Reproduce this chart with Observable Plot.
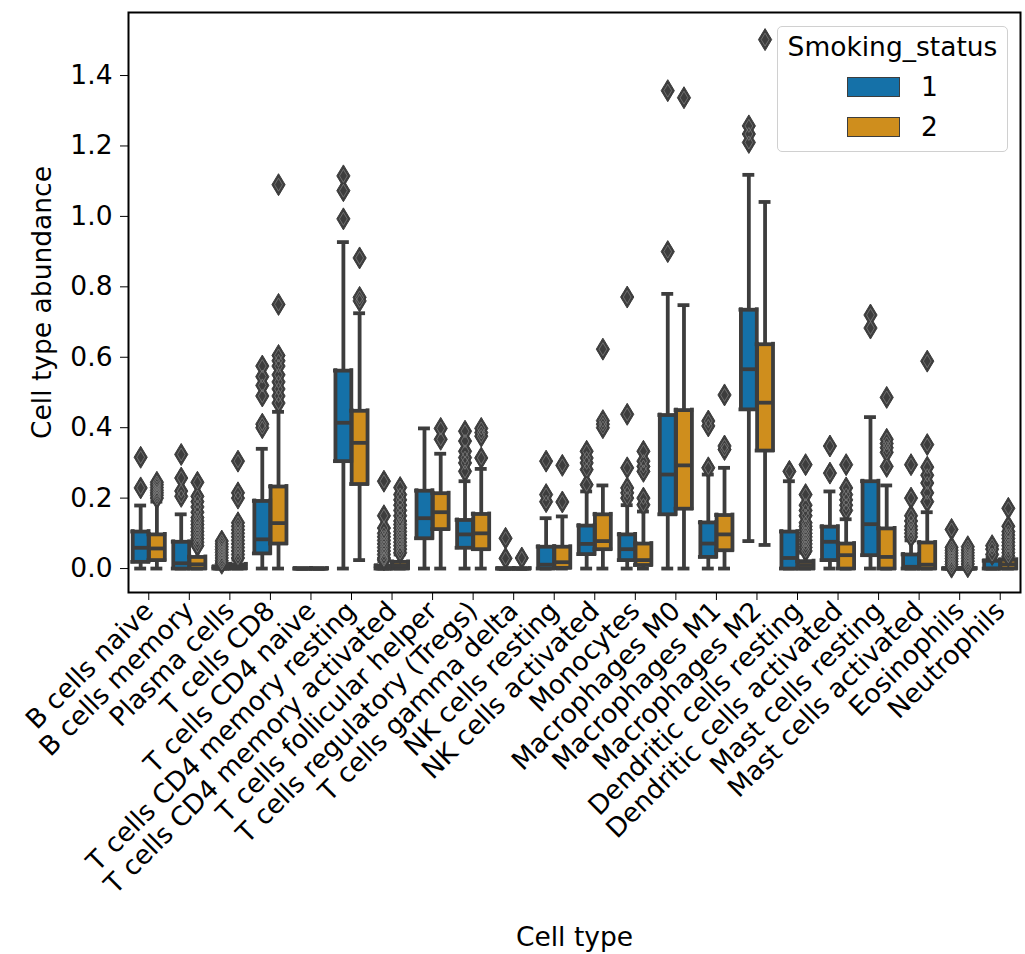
<!DOCTYPE html>
<html>
<head>
<meta charset="utf-8">
<script src="https://cdn.jsdelivr.net/npm/d3@7"></script>
<script src="https://cdn.jsdelivr.net/npm/@observablehq/plot@0.6"></script>
<style>
  html, body { margin: 0; padding: 0; background: #fff; }
  #wrap { position: relative; width: 1025px; height: 954px; font-family: "DejaVu Sans", sans-serif; }
  #legend { position: absolute; left: 777px; top: 26px; width: 229px; height: 124px;
            border: 1.5px solid #d0d0d0; border-radius: 5px; background: rgba(255,255,255,0.8);
            font-size: 26.5px; line-height: 26.5px; color: #000; }
  #legend .title { position: absolute; left: 0; width: 100%; top: 7px; text-align: center; }
  #legend .sw { position: absolute; left: 68.5px; width: 51px; height: 18px; border: 1.5px solid #3d3d3d; }
  #legend .lab { position: absolute; left: 143px; }
</style>
</head>
<body>
<div id="wrap"></div>
<script>
const cellTypes = ["B cells naive","B cells memory","Plasma cells","T cells CD8","T cells CD4 naive",
  "T cells CD4 memory resting","T cells CD4 memory activated","T cells follicular helper",
  "T cells regulatory (Tregs)","T cells gamma delta","NK cells resting","NK cells activated",
  "Monocytes","Macrophages M0","Macrophages M1","Macrophages M2","Dendritic cells resting",
  "Dendritic cells activated","Mast cells resting","Mast cells activated","Eosinophils","Neutrophils"];
const groups = ["1", "2"];
const yTicks = [0, 0.2, 0.4, 0.6, 0.8, 1.0, 1.2, 1.4];

// Smoking_status 1
const g1Lo  = [0,0,0,0,0,0,0,0,0,0,0,0,0,0,0,.078,0,0,0,0,0,0];
const g1Q1  = [.019,0,0,.043,0,.305,0,.086,.059,0,0,.041,.024,.154,.033,.452,0,.024,.038,0,0,0];
const g1Med = [.059,.015,0,.083,0,.414,0,.143,.097,0,.011,.07,.055,.267,.071,.566,.03,.076,.126,.005,0,0];
const g1Q3  = [.105,.076,.005,.192,0,.562,.008,.221,.138,0,.062,.122,.097,.436,.131,.735,.105,.119,.248,.04,0,.022];
const g1Hi  = [.179,.154,.012,.34,0,.927,.02,.398,.248,0,.143,.219,.18,.78,.267,1.118,.248,.219,.43,.08,0,.03];
const g1Out = [
  [.229,.316],[.205,.22,.257,.324],[.015,.022,.03,.038,.046,.054,.062,.07,.078],[.40,.41,.49,.52,.545,.575],[],
  [.993,1.073,1.115],[.025,.03,.04,.05,.06,.07,.08,.09,.10,.115,.15,.248],[],[.276,.30,.315,.333,.362,.39],[.029,.086],
  [.19,.21,.305],[.238,.281,.30,.314,.333],[.2,.215,.229,.286,.438,.771],[.90,1.357],[.286,.405,.419],
  [1.21,1.234,1.257],[.276],[.271,.348],[.683,.72],[.09,.10,.11,.12,.135,.15,.2,.295],
  [.004,.012,.02,.028,.036,.044,.052,.06,.111],[.04,.055,.065]];

// Smoking_status 2
const g2Lo  = [0,0,0,0,0,.024,0,0,0,0,0,0,0,0,0,.067,0,0,0,0,0,0];
const g2Q1  = [.024,0,0,.071,0,.24,0,.112,.055,0,.002,.055,.01,.17,.052,.335,0,0,0,0,0,0];
const g2Med = [.057,.012,.003,.129,0,.357,.008,.16,.1,0,.018,.078,.024,.293,.097,.471,.01,.038,.033,.011,0,.012];
const g2Q3  = [.097,.033,.012,.233,0,.448,.019,.214,.155,0,.062,.154,.071,.45,.152,.637,.021,.071,.114,.074,0,.025];
const g2Hi  = [.19,.075,.025,.445,0,.725,.04,.326,.283,0,.148,.236,.162,.748,.286,1.041,.045,.14,.236,.16,0,.03];
const g2Out = [
  [.2,.208,.215,.222,.23,.238,.245],[.065,.075,.085,.095,.105,.115,.125,.135,.145,.16,.175,.19,.205,.245],
  [.03,.04,.05,.06,.07,.08,.09,.10,.11,.12,.13,.20,.215,.305],[.47,.49,.51,.53,.55,.575,.59,.605,.75,1.09],[],
  [.76,.77,.882],[.045,.055,.065,.075,.085,.095,.105,.115,.125,.135,.15,.165,.18,.195,.21,.23],[.367,.398],
  [.314,.376,.386,.398],[.03],[.189,.293],[.40,.41,.42,.623],[.181,.2,.276,.29,.305,.333],[1.337],[.338,.348,.493],
  [1.502],[.05,.06,.07,.08,.09,.10,.11,.12,.13,.15,.165,.18,.21,.295],[.165,.18,.195,.21,.229,.295],
  [.29,.33,.343,.355,.367,.486],[.19,.215,.243,.265,.288,.352,.589],[.005,.013,.021,.029,.037,.045,.053,.062],
  [.035,.045,.055,.065,.075,.085,.095,.105,.12,.171]];

const colors = ["#1571a8", "#cf8e1d"];
const gray = "#3d3d3d";

const stats = [
  {g: "1", lo: g1Lo, q1: g1Q1, med: g1Med, q3: g1Q3, hi: g1Hi, out: g1Out, off: -0.2},
  {g: "2", lo: g2Lo, q1: g2Q1, med: g2Med, q3: g2Q3, hi: g2Hi, out: g2Out, off: 0.2}
];
const half = 0.196, capHalf = 0.1;
const boxes = [], outliers = [];
for (const s of stats) {
  cellTypes.forEach((name, i) => {
    const c = i + s.off;
    boxes.push({g: s.g, c, x1: c - half, x2: c + half, lo: s.lo[i], q1: s.q1[i], med: s.med[i], q3: s.q3[i], hi: s.hi[i]});
    for (const v of s.out[i]) outliers.push({g: s.g, c, v});
  });
}

const thinDiamond = {
  draw(ctx, size) {
    const r = Math.sqrt(size / Math.PI);
    const w = r * 0.6;
    ctx.moveTo(0, -r); ctx.lineTo(w, 0); ctx.lineTo(0, r); ctx.lineTo(-w, 0); ctx.closePath();
  }
};

const lw = 3.8;
const fs = "26.5px";
const chart = Plot.plot({
  width: 1025, height: 954,
  marginLeft: 128, marginRight: 5, marginTop: 12, marginBottom: 362,
  style: {fontFamily: "DejaVu Sans", fontSize: fs, color: "black", background: "white", overflow: "visible"},
  x: {type: "linear", domain: [-0.5, 21.5], ticks: d3.range(cellTypes.length), tickFormat: i => cellTypes[i],
      tickRotate: -45, tickSize: 8, tickPadding: 6, label: "Cell type", labelAnchor: "center", labelOffset: 353, labelArrow: "none"},
  y: {domain: [-0.068, 1.579], ticks: yTicks, tickFormat: d3.format(".1f"), tickSize: 8, tickPadding: 8,
      label: "Cell type abundance", labelAnchor: "center", labelOffset: 96, labelArrow: "none"},
  color: {domain: groups, range: colors},
  marks: [
    // whiskers
    Plot.ruleX(boxes, {x: "c", y1: "lo", y2: "q1", stroke: gray, strokeWidth: lw}),
    Plot.ruleX(boxes, {x: "c", y1: "q3", y2: "hi", stroke: gray, strokeWidth: lw}),
    Plot.ruleY(boxes, {y: "lo", x1: d => d.c - capHalf, x2: d => d.c + capHalf, stroke: gray, strokeWidth: lw, strokeLinecap: "square"}),
    Plot.ruleY(boxes, {y: "hi", x1: d => d.c - capHalf, x2: d => d.c + capHalf, stroke: gray, strokeWidth: lw, strokeLinecap: "square"}),
    // boxes
    Plot.rect(boxes, {x1: "x1", x2: "x2", y1: "q1", y2: "q3", fill: "g"}),
    Plot.ruleY(boxes, {y: "q1", x1: "x1", x2: "x2", stroke: gray, strokeWidth: lw, strokeLinecap: "square"}),
    Plot.ruleY(boxes, {y: "q3", x1: "x1", x2: "x2", stroke: gray, strokeWidth: lw, strokeLinecap: "square"}),
    Plot.ruleX(boxes, {x: "x1", y1: "q1", y2: "q3", stroke: gray, strokeWidth: lw, strokeLinecap: "square"}),
    Plot.ruleX(boxes, {x: "x2", y1: "q1", y2: "q3", stroke: gray, strokeWidth: lw, strokeLinecap: "square"}),
    Plot.ruleY(boxes, {y: "med", x1: "x1", x2: "x2", stroke: gray, strokeWidth: lw}),
    // outliers
    Plot.dot(outliers, {x: "c", y: "v", symbol: thinDiamond, r: 11, fill: gray, stroke: gray, strokeWidth: 1}),
    Plot.dot(outliers, {x: "c", y: "v", symbol: thinDiamond, r: 6.5, fill: "none", stroke: "#828282", strokeWidth: 0.7}),
    Plot.frame({stroke: "black", strokeWidth: 2})
  ]
});

const wrap = document.getElementById("wrap");
wrap.appendChild(chart);
const legend = document.createElement("div");
legend.id = "legend";
legend.innerHTML = `<div class="title">Smoking_status</div>` +
  groups.map((g, k) => `<div class="sw" style="top:${49.5 + k * 40}px;background:${colors[k]}"></div>` +
    `<div class="lab" style="top:${47 + k * 40}px">${g}</div>`).join("");
wrap.appendChild(legend);
</script>
</body>
</html>
